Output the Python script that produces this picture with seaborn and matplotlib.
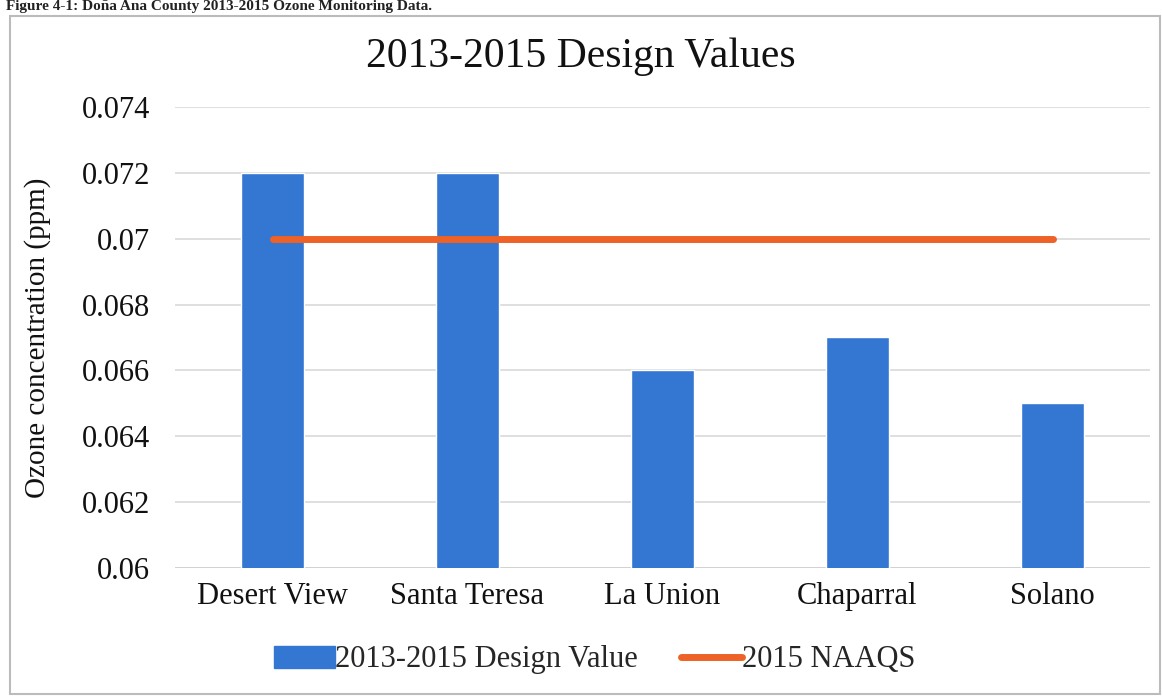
import matplotlib
matplotlib.use("Agg")
import matplotlib.pyplot as plt
import seaborn as sns
from matplotlib.patches import Rectangle, Patch
from matplotlib.lines import Line2D

sites = ["Desert View", "Santa Teresa", "La Union", "Chaparral", "Solano"]
design_values = [0.072, 0.072, 0.066, 0.067, 0.065]
naaqs = [0.070, 0.070, 0.070, 0.070, 0.070]
yticks = [0.06, 0.062, 0.064, 0.066, 0.068, 0.07, 0.072, 0.074]
ytick_labels = ["0.06", "0.062", "0.064", "0.066", "0.068", "0.07", "0.072", "0.074"]

sns.set_theme(style="white")
plt.rcParams["font.family"] = ["Liberation Serif", "DejaVu Serif"]

BLUE = "#3377D2"
ORANGE = "#EE6127"

fig = plt.figure(figsize=(11.62, 6.98), dpi=100)
ax = fig.add_axes([175 / 1162, 1 - 568 / 698, (1150 - 175) / 1162, (568 - 107) / 698])

sns.barplot(x=sites, y=design_values, color=BLUE, width=0.32, ax=ax, zorder=3,
            saturation=1)
sns.lineplot(x=list(range(len(sites))), y=naaqs, color=ORANGE, linewidth=5,
             ax=ax, zorder=4, solid_capstyle="round")

ax.set_ylim(0.06, 0.074)
ax.set_xlim(-0.5, len(sites) - 0.5)
ax.set_yticks(yticks)
ax.set_yticklabels(ytick_labels)
ax.yaxis.grid(True, color="#D9D9D9", linewidth=1.2, zorder=0)
ax.xaxis.grid(False)
for s in ax.spines.values():
    s.set_visible(False)
ax.axhline(0.06, color="#D0D0D0", linewidth=1.2, zorder=1)
ax.tick_params(axis="both", length=0, labelsize=22, colors="#111111")
ax.tick_params(axis="y", pad=18)
ax.tick_params(axis="x", pad=10)
ax.set_ylabel("Ozone concentration (ppm)", fontsize=21, color="#111111")
ax.yaxis.set_label_coords(-0.127, 0.5)
ax.set_xlabel("")

fig.text(0.5, 1 - 57 / 698, "2013-2015 Design Values", ha="center", va="center",
         fontsize=30, color="#111111")

# caption (cropped at the top in the source scan)
fig.text(0.005, 1.0, "Figure 4-1: Doña Ana County 2013-2015 Ozone Monitoring Data.",
         ha="left", va="top", fontsize=11, fontweight="bold", color="#222222")

# outer chart border
fig.patches.append(Rectangle((10 / 1162, 4 / 698), 1150 / 1162, 1 - 20 / 698,
                             transform=fig.transFigure, fill=False,
                             edgecolor="#BBBBBB", linewidth=1.5))

handles = [Patch(facecolor=BLUE, edgecolor=BLUE),
           Line2D([0], [0], color=ORANGE, linewidth=5, solid_capstyle="round")]
fig.legend(handles, ["2013-2015 Design Value", "2015 NAAQS"], loc="center",
           bbox_to_anchor=(0.512, 1 - 660 / 698), ncol=2, frameon=False, fontsize=22,
           handlelength=2.0, handletextpad=0.0, columnspacing=1.4)

fig.savefig("out.png", dpi=100)
